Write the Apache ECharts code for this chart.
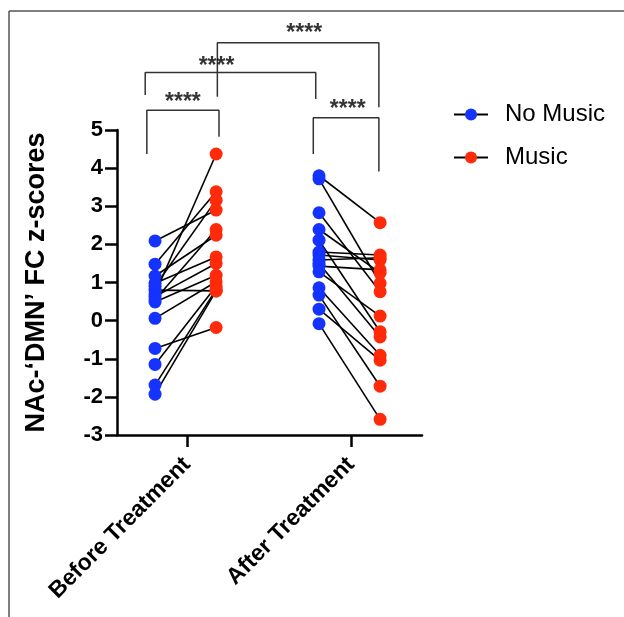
<!DOCTYPE html>
<html><head><meta charset="utf-8">
<script src="https://cdn.jsdelivr.net/npm/echarts@6/dist/echarts.min.js"></script>
<style>html,body{margin:0;padding:0;background:#fff}#c{width:624px;height:617px}</style>
</head><body><div id="c"></div>
<script>
// ---- data ----
const categories = ['Before Treatment', 'After Treatment'];
const seriesNames = ['No Music', 'Music'];
const beforeNoMusic = [2.09, 1.48, 1.17, 0.98, 0.90, 0.80, 0.70, 0.63, 0.55, 0.49, 0.06, -0.73, -1.15, -1.69, -1.93];
const beforeMusic   = [2.90, 3.38, 2.24, 1.67, 3.16, 0.78, 4.37, 1.50, 2.39, 1.19, 1.02, -0.18, 0.90, 0.82, 0.78];
const afterNoMusic  = [3.80, 3.72, 2.83, 2.39, 2.11, 1.80, 1.72, 1.59, 1.50, 1.43, 1.28, 0.86, 0.67, 0.30, -0.08];
const afterMusic    = [2.57, 0.98, 0.76, 1.25, -0.29, 1.72, 1.59, 1.65, -0.43, 1.33, 0.12, -0.91, -1.72, -1.04, -2.59];
const yTickLabels = ['-3', '-2', '-1', '0', '1', '2', '3', '4', '5'];
const sigLabel = '****';

// ---- layout (axis units) ----
const catPos = [1, 3];
const offNoMusic = -0.39, offMusic = 0.355;
const brackets = [
  { x1: 0.51, x2: 1.39, top: 5.52, leg1: 4.37, leg2: 4.82, tx: 0.95, ty: 5.72 },
  { x1: 2.54, x2: 3.34, top: 5.32, leg1: 4.37, leg2: 3.91, tx: 2.96, ty: 5.53 },
  { x1: 0.49, x2: 2.57, top: 6.51, leg1: 5.92, leg2: 5.81, tx: 1.36, ty: 6.66 },
  { x1: 1.37, x2: 3.34, top: 7.29, leg1: 5.87, leg2: 5.60, tx: 2.43, ty: 7.53 }
];

const BLUE = '#1533ff', RED = '#ff2a0a';
const FONT = '"Liberation Sans", Arial, Helvetica, sans-serif';

const groups = [[beforeNoMusic, beforeMusic], [afterNoMusic, afterMusic]];
const connectors = [];
const nmPts = [], mPts = [];
groups.forEach((g, gi) => {
  g[0].forEach((v, i) => {
    const a = [catPos[gi] + offNoMusic, v];
    const b = [catPos[gi] + offMusic, g[1][i]];
    connectors.push({ coords: [a, b] });
    nmPts.push(a);
    mPts.push(b);
  });
});

const series = [
  {
    type: 'lines', coordinateSystem: 'cartesian2d', z: 1, silent: true,
    lineStyle: { color: '#000', width: 1.6, opacity: 1 },
    data: connectors
  },
  {
    name: seriesNames[0], type: 'line', z: 3, data: nmPts,
    symbol: 'circle', symbolSize: 13, showAllSymbol: true,
    itemStyle: { color: BLUE }, lineStyle: { width: 0, opacity: 0 }
  },
  {
    name: seriesNames[1], type: 'line', z: 4, data: mPts,
    symbol: 'circle', symbolSize: 13, showAllSymbol: true,
    itemStyle: { color: RED }, lineStyle: { width: 0, opacity: 0 }
  }
];
brackets.forEach(b => {
  series.push({
    type: 'line', clip: false, silent: true, symbol: 'none', z: 2,
    lineStyle: { color: '#333', width: 1.5 },
    data: [[b.x1, b.leg1], [b.x1, b.top], [b.x2, b.top], [b.x2, b.leg2]]
  });
  series.push({
    type: 'scatter', clip: false, silent: true, symbolSize: 1, z: 5,
    itemStyle: { color: 'rgba(0,0,0,0)' },
    label: { show: true, position: 'inside', formatter: sigLabel, color: '#000',
      fontSize: 23, fontWeight: 'bold', fontFamily: FONT },
    data: [[b.tx, b.ty]]
  });
});

const chart = echarts.init(document.getElementById('c'));
chart.setOption({
  animation: false,
  backgroundColor: '#fff',
  grid: { left: 117, right: 202, top: 130, bottom: 182, containLabel: false },
  legend: {
    data: seriesNames, orient: 'vertical', left: 448, top: 96,
    itemWidth: 34, itemHeight: 15, itemGap: 16,
    lineStyle: { color: '#000', width: 2, opacity: 1 },
    textStyle: { fontSize: 24, color: '#000', fontFamily: FONT, padding: [0, 0, 0, 12], lineHeight: 27 }
  },
  xAxis: {
    type: 'value', min: 0.146, max: 3.866,
    axisLine: { show: true, onZero: false, lineStyle: { color: '#000', width: 2.5 } },
    axisTick: { show: true, length: 12, lineStyle: { color: '#000', width: 2.5 }, customValues: catPos },
    axisLabel: {
      customValues: catPos, rotate: 45, margin: 26, color: '#000',
      fontSize: 23, fontWeight: 'bold', fontFamily: FONT,
      formatter: v => categories[catPos.indexOf(v)] || ''
    },
    splitLine: { show: false }
  },
  yAxis: {
    type: 'value', min: -3, max: 5, interval: 1,
    name: 'NAc-‘DMN’ FC z-scores', nameLocation: 'middle', nameRotate: 90, nameGap: 67,
    nameTextStyle: { fontSize: 27, fontWeight: 'bold', color: '#000', fontFamily: FONT },
    axisLine: { show: true, lineStyle: { color: '#000', width: 2.5 } },
    axisTick: { show: true, length: 12, lineStyle: { color: '#000', width: 2.5 } },
    axisLabel: { margin: 14, color: '#000', fontSize: 22, fontWeight: 'bold', fontFamily: FONT,
      formatter: v => yTickLabels[Math.round(v) + 3] },
    splitLine: { show: false }
  },
  graphic: [
    { type: 'line', silent: true, shape: { x1: 9, y1: 11, x2: 624, y2: 11 }, style: { stroke: '#555', lineWidth: 1.5 } },
    { type: 'line', silent: true, shape: { x1: 9, y1: 11, x2: 9, y2: 617 }, style: { stroke: '#555', lineWidth: 1.5 } }
  ],
  series: series
});
</script>
</body></html>
